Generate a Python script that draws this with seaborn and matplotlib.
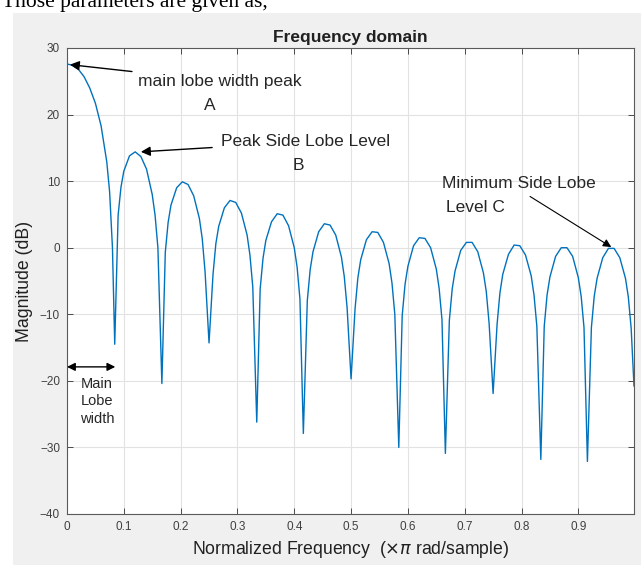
import seaborn as sns
import matplotlib.pyplot as plt
from matplotlib.patches import Rectangle


def flatten_2d_array(array_2d):
    """2D list -> 1D list"""
    return [item for sublist in array_2d for item in sublist]


# one row per lobe (main lobe + 11 side lobes), last value of each row is the null
lobe_freq = [
    [0.000, 0.010, 0.020, 0.030, 0.040, 0.050, 0.060, 0.070, 0.075, 0.080, 0.084],
    [0.090, 0.095, 0.100, 0.110, 0.120, 0.130, 0.140, 0.150, 0.155, 0.160, 0.167],
    [0.173, 0.178, 0.183, 0.193, 0.203, 0.213, 0.223, 0.233, 0.238, 0.243, 0.250],
    [0.257, 0.262, 0.267, 0.277, 0.287, 0.297, 0.307, 0.317, 0.322, 0.327, 0.334],
    [0.340, 0.345, 0.350, 0.360, 0.370, 0.380, 0.390, 0.400, 0.405, 0.410, 0.416],
    [0.423, 0.428, 0.433, 0.443, 0.453, 0.463, 0.473, 0.483, 0.488, 0.493, 0.500],
    [0.507, 0.512, 0.517, 0.527, 0.537, 0.547, 0.557, 0.567, 0.572, 0.577, 0.584],
    [0.590, 0.595, 0.600, 0.610, 0.620, 0.630, 0.640, 0.650, 0.655, 0.660, 0.666],
    [0.673, 0.678, 0.683, 0.693, 0.703, 0.713, 0.723, 0.733, 0.738, 0.743, 0.750],
    [0.757, 0.762, 0.767, 0.777, 0.787, 0.797, 0.807, 0.817, 0.822, 0.827, 0.834],
    [0.840, 0.845, 0.850, 0.860, 0.870, 0.880, 0.890, 0.900, 0.905, 0.910, 0.916],
    [0.923, 0.928, 0.933, 0.943, 0.953, 0.963, 0.973, 0.983, 0.988, 0.993, 0.998],
]
lobe_mag = [
    [27.6, 27.4, 26.8, 25.7, 24.0, 21.7, 18.3, 12.9, 8.4, 0.0, -14.5],
    [4.9, 9.1, 11.5, 13.8, 14.4, 13.7, 11.8, 8.0, 4.9, 0.0, -20.4],
    [-0.7, 3.8, 6.4, 9.0, 9.9, 9.5, 7.8, 4.4, 1.4, -3.6, -14.3],
    [-4.0, 0.6, 3.2, 6.0, 7.1, 6.8, 5.2, 1.9, -1.1, -5.9, -26.2],
    [-6.2, -1.6, 1.1, 3.9, 5.1, 4.9, 3.3, 0.0, -2.9, -7.7, -27.9],
    [-7.9, -3.3, -0.6, 2.4, 3.6, 3.4, 1.9, -1.4, -4.3, -9.0, -19.7],
    [-9.2, -4.5, -1.8, 1.2, 2.4, 2.3, 0.8, -2.4, -5.3, -10.0, -30.0],
    [-10.2, -5.5, -2.8, 0.3, 1.5, 1.4, 0.0, -3.2, -6.1, -10.8, -30.9],
    [-10.9, -6.2, -3.5, -0.4, 0.8, 0.8, -0.6, -3.8, -6.6, -11.4, -21.9],
    [-11.5, -6.8, -4.0, -1.0, 0.4, 0.3, -1.1, -4.2, -7.1, -11.8, -31.8],
    [-11.8, -7.1, -4.4, -1.3, 0.0, 0.0, -1.3, -4.5, -7.3, -12.0, -32.1],
    [-12.0, -7.3, -4.6, -1.5, -0.1, -0.1, -1.5, -4.6, -7.4, -12.1, -20.8],
]

x_ticks = [0, 0.1, 0.2, 0.3, 0.4, 0.5, 0.6, 0.7, 0.8, 0.9]
x_tick_labels = ["0", "0.1", "0.2", "0.3", "0.4", "0.5", "0.6", "0.7", "0.8", "0.9"]
y_ticks = [-40, -30, -20, -10, 0, 10, 20, 30]

freq = flatten_2d_array(lobe_freq)
mag = flatten_2d_array(lobe_mag)

sns.set_theme(style="ticks")
plt.rcParams['font.family'] = ['Liberation Sans', 'DejaVu Sans']
plt.rcParams['mathtext.fontset'] = 'dejavusans'

fig = plt.figure(figsize=(6.41, 5.65), dpi=100, facecolor='white')
# grey MATLAB figure window background
fig.patches.append(Rectangle((13 / 641, 0), 1, 1 - 13 / 565, transform=fig.transFigure,
                             facecolor='#f0f0f0', edgecolor='none', zorder=-10))
fig.text(0.003, 1 - 7 / 565, "Those parameters are given as,", family='Liberation Serif',
         fontsize=15.5, va='baseline', ha='left', color='black')

ax = fig.add_axes([67 / 641, 51 / 565, 567 / 641, 466 / 565])
ax.set_facecolor('white')

sns.lineplot(x=freq, y=mag, ax=ax, color='#0072BD', linewidth=1.0, estimator=None, sort=False, zorder=3)

ax.set_xlim(0, 0.998)
ax.set_ylim(-40, 30)
ax.set_xticks(x_ticks)
ax.set_xticklabels(x_tick_labels)
ax.set_yticks(y_ticks)

# MATLAB-like axes: box on, ticks inside, light grid
ax.grid(True, color='#e2e2e2', linewidth=0.8, zorder=0)
for side in ['top', 'right', 'bottom', 'left']:
    ax.spines[side].set_visible(True)
    ax.spines[side].set_color('#5a5a5a')
    ax.spines[side].set_linewidth(0.8)
ax.tick_params(direction='in', top=True, right=True, length=4, width=0.7, color='#4a4a4a',
               labelsize=8.5, labelcolor='#404040', pad=5)

ax.set_title("Frequency domain", fontsize=12.5, fontweight='bold', color='#202020', pad=4)
ax.set_xlabel("Normalized Frequency  ($\\times\\pi$ rad/sample)", fontsize=12.7, color='#202020', labelpad=4)
ax.set_ylabel("Magnitude (dB)", fontsize=12.7, color='#202020', labelpad=5)

arrow = dict(arrowstyle='-|>', color='black', lw=1.0, mutation_scale=14)
ax.annotate("main lobe width peak", xy=(0.005, 27.5), xytext=(0.125, 25.0), fontsize=12.5,
            va='center', ha='left', arrowprops=dict(arrow, shrinkA=2, shrinkB=0))
ax.text(0.252, 21.4, "A", fontsize=12.5, ha='center', va='center')
ax.annotate("Peak Side Lobe Level", xy=(0.13, 14.4), xytext=(0.271, 15.9), fontsize=12.5,
            va='center', ha='left', arrowprops=dict(arrow, shrinkA=4, shrinkB=0))
ax.text(0.407, 12.4, "B", fontsize=12.5, ha='center', va='center')
ax.text(0.66, 9.6, "Minimum Side Lobe", fontsize=12.5, ha='left', va='center')
ax.text(0.667, 6.0, "Level C", fontsize=12.5, ha='left', va='center')
ax.annotate("", xy=(0.958, 0.1), xytext=(0.815, 7.7),
            arrowprops=dict(arrowstyle='-|>', color='black', lw=0.8, mutation_scale=12, shrinkA=0, shrinkB=0))
ax.annotate("", xy=(0.0, -17.9), xytext=(0.085, -17.9),
            arrowprops=dict(arrowstyle='<|-|>', color='black', lw=1.0, mutation_scale=12, shrinkA=0, shrinkB=0))
ax.text(0.053, -23.1, "Main\nLobe\nwidth", fontsize=10.5, ha='center', va='center', linespacing=1.35)

fig.savefig("out.png", dpi=100, facecolor=fig.get_facecolor())
